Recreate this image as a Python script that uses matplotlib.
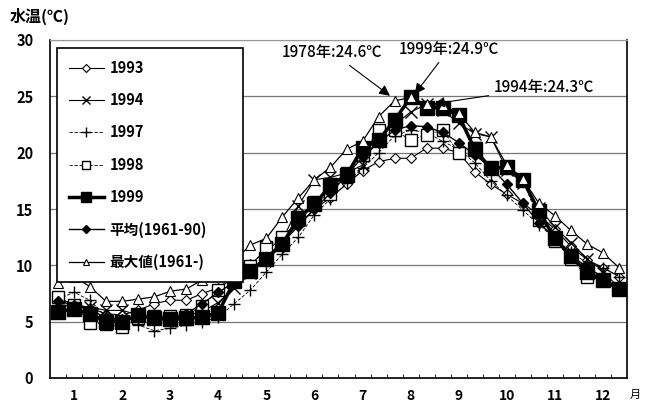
import numpy as np
import matplotlib
matplotlib.use('Agg')
import matplotlib.pyplot as plt

plt.rcParams['font.family'] = ['Noto Sans CJK JP', 'DejaVu Sans']

# 旬別データ (上旬/中旬/下旬 x 12ヶ月)
months = list(range(1, 13))
y1993 = [7.0, 6.6, 6.2, 5.7, 5.6, 6.0, 6.6, 6.9, 6.9, 7.5, 8.0, 8.9, 10.1, 11.3, 12.4, 13.6, 15.0, 16.0,
         17.2, 18.4, 19.2, 19.5, 19.5, 20.4, 20.4, 20.0, 18.3, 17.2, 16.3, 15.5, 14.5, 13.2, 11.7, 10.5, 9.8, 9.0]
y1994 = [6.5, 6.4, 6.3, 6.0, 6.0, 5.6, 5.4, 5.4, 5.5, 5.9, 6.7, 8.0, 9.3, 10.6, 12.2, 15.3, 17.6, 17.8,
         18.2, 18.9, 21.5, 22.5, 23.6, 24.3, 23.8, 22.6, 21.7, 21.4, 18.5, 17.3, 15.1, 13.4, 12.0, 10.6, 9.5, 8.0]
y1997 = [7.0, 7.6, 6.9, 5.4, 5.0, 4.7, 4.2, 4.4, 4.7, 5.0, 5.4, 6.6, 7.8, 9.4, 11.0, 12.5, 14.5, 15.9,
         17.3, 18.6, 20.0, 21.5, 22.0, 21.8, 21.0, 20.3, 19.1, 17.5, 16.2, 14.9, 13.6, 12.4, 11.2, 10.2, 9.8, 9.0]
y1998 = [7.2, 6.5, 4.9, 4.8, 4.5, 5.3, 5.5, 5.5, 5.6, 6.4, 7.8, 9.7, 9.9, 11.6, 12.5, 14.0, 15.6, 16.3,
         18.2, 19.8, 22.0, 22.0, 21.1, 21.6, 22.0, 20.0, 20.4, 18.6, 18.7, 17.6, 14.0, 12.2, 10.6, 9.0, 8.7, 7.9]
y1999 = [5.9, 6.1, 5.7, 5.0, 5.0, 5.6, 5.3, 5.2, 5.3, 5.4, 5.8, 8.6, 9.5, 10.6, 11.9, 14.2, 15.4, 17.1,
         18.0, 20.4, 21.1, 22.9, 24.9, 24.0, 24.0, 23.3, 20.3, 18.6, 18.7, 17.6, 14.8, 12.4, 10.8, 9.4, 8.7, 7.9]
avg = [6.8, 6.5, 6.0, 5.4, 5.2, 5.3, 5.4, 5.4, 5.7, 6.6, 7.6, 8.5, 9.6, 10.7, 12.0, 13.5, 15.0, 16.4,
       18.0, 19.6, 20.9, 22.0, 22.4, 22.3, 21.8, 20.9, 19.8, 18.7, 17.2, 15.5, 13.8, 12.4, 10.8, 9.9, 8.9, 8.0]
ymax = [8.4, 9.0, 8.1, 6.8, 6.8, 7.0, 7.2, 7.7, 7.9, 8.7, 9.4, 10.4, 11.8, 12.4, 14.3, 16.0, 17.6, 18.7,
        20.3, 21.0, 23.2, 24.6, 24.9, 24.3, 24.2, 23.5, 21.8, 21.4, 18.9, 17.7, 15.5, 14.4, 13.1, 11.9, 11.1, 9.8]

x = 1 + (np.arange(len(y1999)) - 1) / 3.0

fig = plt.figure(figsize=(6.49, 4.03), dpi=100)
ax = fig.add_axes([50 / 649, 25 / 403, 577 / 649, 338 / 403])

ax.plot(x, y1993, color='black', lw=0.8, marker='D', ms=5, mfc='white', mec='black', mew=0.8, label='1993')
ax.plot(x, y1994, color='black', lw=0.8, marker='x', ms=8, mew=1.0, label='1994')
ax.plot(x, y1997, color='black', lw=0.6, ls=(0, (4, 2)), marker='+', ms=9, mew=1.0, label='1997')
ax.plot(x, y1998, color='black', lw=0.6, ls=(0, (4, 2)), marker='s', ms=8, mfc='white', mec='black', mew=1.0, label='1998')
ax.plot(x, y1999, color='black', lw=2.5, marker='s', ms=10, mfc='black', mec='black', label='1999')
ax.plot(x, avg, color='black', lw=1.0, marker='D', ms=5.5, mfc='black', mec='black', label='平均(1961-90)')
ax.plot(x, ymax, color='black', lw=0.9, marker='^', ms=6.5, mfc='white', mec='black', mew=0.8, label='最大値(1961-)')

ax.set_xlim(0.5, 12.5)
ax.set_ylim(0, 30)
ax.set_yticks(np.arange(0, 31, 5))
ax.set_xticks(months)
ax.set_xticklabels([str(m) for m in months])
ax.set_xticks(np.arange(0.5 + 1 / 3, 12.5, 1 / 3), minor=True)
ax.tick_params(axis='x', which='major', length=0, labelsize=10, pad=8)
ax.tick_params(axis='x', which='minor', direction='in', length=3, width=0.6)
ax.tick_params(axis='y', length=0, labelsize=10.5, pad=12)
for lab in ax.get_xticklabels() + ax.get_yticklabels():
    lab.set_fontweight('bold')

ax.grid(axis='y', color='#777777', lw=0.9)
ax.set_axisbelow(True)
for s in ['left', 'bottom', 'right']:
    ax.spines[s].set_linewidth(1.2)
ax.spines['top'].set_color('#999999')
ax.spines['top'].set_linewidth(0.8)

fig.text(10 / 649, 1 - 16 / 403, '水温(℃)', fontsize=11.5, fontweight='bold', va='center', ha='left')
fig.text(630 / 649, 1 - 395 / 403, '月', fontsize=8, va='center', ha='left')

leg = ax.legend(loc='upper left', bbox_to_anchor=(0.012, 0.379, 0.322, 0.597), mode='expand',
                borderaxespad=0, labelspacing=1.12, handlelength=2.4, markerscale=0.75,
                borderpad=0.8, handletextpad=0.4, fancybox=False, framealpha=1,
                edgecolor='black', prop={'weight': 'bold', 'size': 10.5})
leg.get_frame().set_linewidth(1.2)

arrow = dict(arrowstyle='-|>', color='black', lw=0.8, mutation_scale=16)
ax.annotate('1978年:24.6℃', xy=(x[21] - 0.05, 24.6 + 0.3), xytext=(6.37, 28.9),
            fontsize=11, fontweight='medium', ha='center', va='center', arrowprops=arrow)
ax.annotate('1999年:24.9℃', xy=(x[22] + 0.05, 25.0), xytext=(8.8, 29.2),
            fontsize=11, fontweight='medium', ha='center', va='center', arrowprops=arrow)
ax.annotate('1994年:24.3℃', xy=(x[23] + 0.1, 24.3), xytext=(10.78, 25.8),
            fontsize=11, fontweight='medium', ha='center', va='center', arrowprops=arrow)

fig.savefig('out.png', dpi=100)
